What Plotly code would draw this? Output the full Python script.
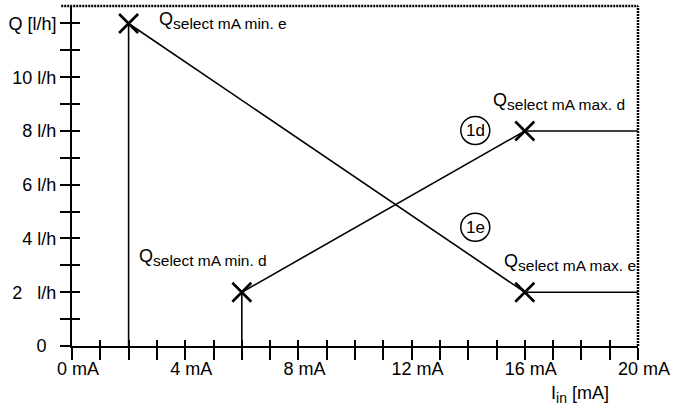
"""
Kennlinie Q über I_in — Zuordnung Stromsignal zu Fördermenge
"""

import plotly.graph_objects as go

# ── Daten ──
# Kennlinie e (fallend): Sockel bei 2 mA, Knick bei 16 mA
curve_e_i = [2, 2, 16, 20]
curve_e_q = [0, 12, 2, 2]
# Kennlinie d (steigend): Sockel bei 6 mA, Knick bei 16 mA
curve_d_i = [6, 6, 16, 20]
curve_d_q = [0, 2, 8, 8]

x_ticks = list(range(0, 21))
x_labels = ["0 mA" if v == 0 else f"{v} mA" if v % 4 == 0 else "" for v in x_ticks]
y_ticks = list(range(0, 13))
y_labels = ["0\u00a0\u00a0", "", "2\u00a0\u00a0 l/h", "", "4 l/h", "", "6 l/h", "",
            "8 l/h", "", "10 l/h", "", "Q [l/h]"]

# Beschriftungen der Eckpunkte
point_names = ["select mA min. e", "select mA min. d", "select mA max. d", "select mA max. e"]
point_label_i = [3.0, 2.29, 14.82, 15.2]
point_label_q = [12.1, 3.3, 9.1, 3.1]
curve_tags = ["1d", "1e"]
curve_tag_i = [14.25, 14.25]
curve_tag_q = [8.02, 4.42]

FONT = "Liberation Sans, Arial, sans-serif"
BLACK = "#000000"

fig = go.Figure()

# Kennlinie e auf der Hauptachse, Kennlinie d auf den überlagerten Achsen
# (die überlagerten Achsen liefern die nach innen zeigenden Teilstriche)
for xs, ys, xa, ya in [(curve_e_i, curve_e_q, "x", "y"),
                       (curve_d_i, curve_d_q, "x2", "y2")]:
    fig.add_trace(go.Scatter(
        x=xs, y=ys, mode="lines", xaxis=xa, yaxis=ya,
        line=dict(color=BLACK, width=1.6),
        hoverinfo="skip", showlegend=False,
    ))
    # Eckpunkte markieren
    fig.add_trace(go.Scatter(
        x=xs[1:3], y=ys[1:3], mode="markers", xaxis=xa, yaxis=ya,
        marker=dict(symbol="x-thin-open", size=19, color=BLACK,
                    line=dict(color=BLACK, width=2.6)),
        hoverinfo="skip", showlegend=False,
    ))

annotations = []
for name, xi, yq in zip(point_names, point_label_i, point_label_q):
    annotations.append(dict(
        x=xi, y=yq, xref="x", yref="y", xanchor="left", yanchor="middle",
        text=f"Q<sub><span style='font-size:15.5px'>{name}</span></sub>",
        showarrow=False, font=dict(family=FONT, size=18, color=BLACK),
    ))

shapes = []
for tag, xi, yq in zip(curve_tags, curve_tag_i, curve_tag_q):
    annotations.append(dict(
        x=xi, y=yq, xref="x", yref="y", xanchor="center", yanchor="middle",
        text=tag, showarrow=False, font=dict(family=FONT, size=17, color=BLACK),
    ))
    shapes.append(dict(
        type="circle", xref="x", yref="y", xsizemode="pixel", ysizemode="pixel",
        xanchor=xi, yanchor=yq, x0=-14.5, x1=14.5, y0=-14, y1=14,
        line=dict(color=BLACK, width=1.5),
    ))

# Achsentitel unten rechts
annotations.append(dict(
    x=17.94, y=-0.142, xref="x", yref="paper", xanchor="center", yanchor="middle",
    text="I<sub><span style='font-size:14px'>in</span></sub> [mA]",
    showarrow=False, font=dict(family=FONT, size=18, color=BLACK),
))

# gepunkteter Rahmen oben und rechts
dotted = dict(color=BLACK, width=2.5, dash="2px,1px")
shapes.append(dict(type="line", xref="paper", yref="paper",
                   x0=-0.019, x1=1, y0=1, y1=1, line=dotted))
shapes.append(dict(type="line", xref="paper", yref="paper",
                   x0=1, x1=1, y0=0, y1=1, line=dotted))

axis_common = dict(
    showgrid=False, zeroline=False, showline=True,
    linecolor=BLACK, linewidth=2, tickcolor=BLACK, tickwidth=2,
    tickfont=dict(family=FONT, size=18, color=BLACK),
    fixedrange=True,
)

fig.update_layout(
    width=676, height=406,
    paper_bgcolor="white", plot_bgcolor="white",
    margin=dict(l=72, r=34, t=6, b=60),
    font=dict(family=FONT, color=BLACK),
    showlegend=False,
    xaxis=dict(
        **axis_common, range=[0, 20], tickmode="array",
        tickvals=x_ticks, ticktext=x_labels,
        ticks="outside", ticklen=12, ticklabelshift=6, ticklabelstandoff=-7,
    ),
    xaxis2=dict(
        **axis_common, range=[0, 20], overlaying="x", anchor="y", side="bottom",
        tickmode="array", tickvals=x_ticks, showticklabels=False,
        ticks="inside", ticklen=6,
    ),
    yaxis=dict(
        **axis_common, range=[0, 12.65], tickmode="array",
        tickvals=y_ticks, ticktext=y_labels,
        ticks="outside", ticklen=10,
    ),
    yaxis2=dict(
        **axis_common, range=[0, 12.65], overlaying="y", anchor="x", side="left",
        tickmode="array", tickvals=y_ticks, showticklabels=False,
        ticks="inside", ticklen=8,
    ),
    annotations=annotations,
    shapes=shapes,
)

# Seitenrand entfernen, damit die Grafik bündig bei (0, 0) liegt
fig.write_html("out.html", config=dict(displayModeBar=False),
               post_script="document.body.style.margin='0';")
